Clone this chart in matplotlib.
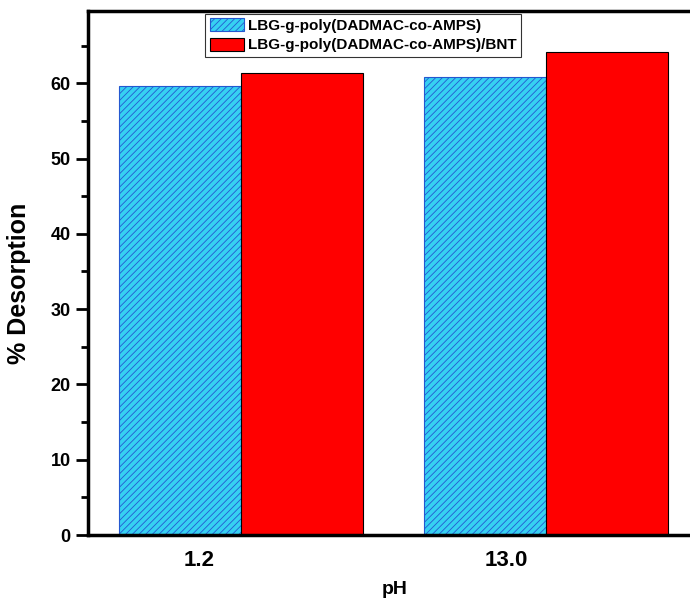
import numpy as np
import matplotlib.pyplot as plt

# Data
ph_labels = ['1.2', '13.0']
desorption_lbg = [59.7, 60.8]
desorption_bnt = [61.3, 64.2]

plt.rcParams['font.family'] = ['Liberation Sans', 'DejaVu Sans']
plt.rcParams['font.weight'] = 'bold'
plt.rcParams['hatch.linewidth'] = 0.6

fig = plt.figure(figsize=(6.9, 6.01), dpi=100)
ax = fig.add_axes([88 / 690, 66 / 601, 1 - 88 / 690, 524 / 601])

x = np.arange(len(ph_labels))
w = 0.4
ax.bar(x - w / 2, desorption_lbg, w, color='#36D0F2', edgecolor='#2458D0',
       hatch='/////', linewidth=0.8, label='LBG-g-poly(DADMAC-co-AMPS)')
ax.bar(x + w / 2, desorption_bnt, w, color='#FF0000', edgecolor='black',
       linewidth=0.8, label='LBG-g-poly(DADMAC-co-AMPS)/BNT')

ax.set_xlim(-0.5, 1.472)
ax.set_ylim(0, 69.6)
ax.set_xticks([-0.135, 0.87])
ax.set_xticklabels(ph_labels, fontsize=16, fontweight='bold')
ax.tick_params(axis='x', length=0, pad=11)
ax.set_yticks(np.arange(0, 70, 10))
ax.set_yticks(np.arange(5, 70, 10), minor=True)
ax.tick_params(axis='y', which='major', length=9, width=2, labelsize=13)
ax.tick_params(axis='y', which='minor', length=5, width=2)
for lab in ax.get_yticklabels():
    lab.set_fontweight('bold')

ax.spines['right'].set_visible(False)
for s in ['left', 'bottom', 'top']:
    ax.spines[s].set_linewidth(2.5)

ax.set_xlabel('pH', fontsize=14, fontweight='bold')
ax.xaxis.set_label_coords(0.51, -0.088)
ax.set_ylabel('% Desorption', fontsize=18, fontweight='bold')
ax.yaxis.set_label_coords(-0.094, 0.48)

leg = ax.legend(loc='upper left', bbox_to_anchor=(0.195, 0.995), fontsize=11,
                frameon=True, fancybox=False, edgecolor='black',
                handlelength=2.2, handleheight=0.95, borderpad=0.3,
                labelspacing=0.3, handletextpad=0.3, borderaxespad=0)
leg.get_frame().set_linewidth(0.8)
for t in leg.get_texts():
    t.set_fontweight('bold')

fig.savefig('out.png', dpi=100)
